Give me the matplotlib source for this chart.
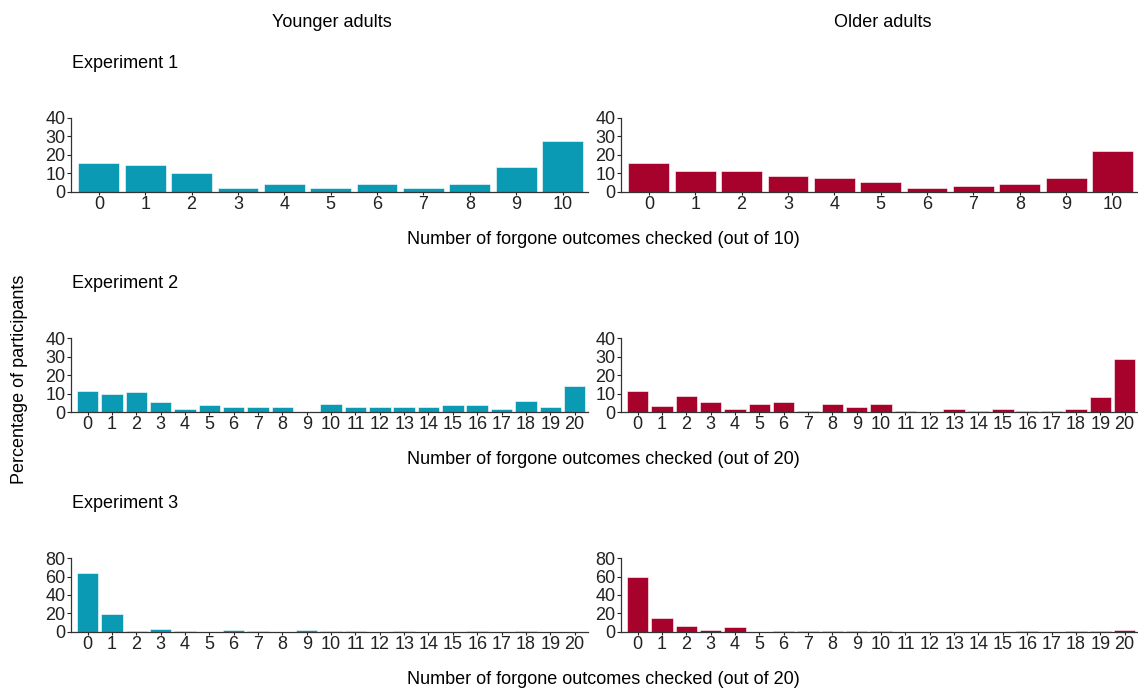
import numpy as np
import matplotlib
matplotlib.use('Agg')
import matplotlib.pyplot as plt

plt.rcParams['font.family'] = ['Liberation Sans', 'DejaVu Sans']

# percentage of participants per number of forgone outcomes checked
exp1_young = [15.3, 14.2, 9.9, 1.9, 4.2, 1.9, 4.2, 1.9, 4.2, 13.1, 27.3]
exp1_old = [15.3, 10.9, 10.9, 8.4, 7.3, 5.2, 1.8, 2.9, 4.1, 7.3, 22.0]

exp2_young = [11.6, 9.8, 10.7, 5.2, 1.4, 3.6, 2.5, 2.5, 2.5, 0.0, 4.3,
              2.5, 2.5, 2.5, 2.5, 3.6, 3.6, 1.4, 5.9, 2.5, 14.3]
exp2_old = [11.6, 3.4, 8.9, 5.2, 1.4, 4.3, 5.2, 0.7, 4.3, 2.5, 4.3,
            0.7, 0.0, 1.4, 0.7, 1.4, 0.7, 0.7, 1.4, 7.9, 28.9]

exp3_young = [63.8, 19.6, 0.6, 2.9, 0.6, 0.0, 2.1, 0.6, 0.0, 2.1, 0.6,
              0.6, 0.0, 0.6, 0.0, 0.0, 0.6, 0.0, 0.6, 0.0, 0.0]
exp3_old = [60.0, 15.0, 6.8, 1.8, 5.7, 0.0, 0.6, 0.6, 0.6, 0.6, 0.6,
            0.0, 0.0, 0.0, 0.0, 0.0, 0.6, 0.0, 0.6, 0.6, 1.8]

teal = '#0B9AB4'
crimson = '#A6022C'
fs = 13

fig = plt.figure(figsize=(11.38, 6.89), dpi=100)

rows = [
    (exp1_young, exp1_old, 40, [0, 10, 20, 30, 40], 0.722, 'Experiment 1', '(out of 10)', -0.6),
    (exp2_young, exp2_old, 40, [0, 10, 20, 30, 40], 0.402, 'Experiment 2', '(out of 20)', -0.68),
    (exp3_young, exp3_old, 80, [0, 20, 40, 60, 80], 0.083, 'Experiment 3', '(out of 20)', -0.68),
]

for young, old, ymax, yticks, bottom, label, outof, xleft in rows:
    for vals, color, left in [(young, teal, 0.0624), (old, crimson, 0.5457)]:
        ax = fig.add_axes([left, bottom, 0.4543, 0.107])
        x = np.arange(len(vals))
        ax.bar(x, vals, width=0.88, color=color, edgecolor='white', linewidth=0.4)
        ax.set_xlim(xleft, len(vals) - 0.45)
        ax.set_ylim(0, ymax)
        ax.set_yticks(yticks)
        ax.set_xticks(x)
        ax.tick_params(labelsize=fs, length=3, width=0.8, pad=1, colors='#222222')
        ax.tick_params(axis='x', length=2)
        for s in ['top', 'right']:
            ax.spines[s].set_visible(False)
        for s in ['left', 'bottom']:
            ax.spines[s].set_linewidth(0.9)
            ax.spines[s].set_color('#333333')
    fig.text(0.063, bottom + 0.107 + 0.079, label, fontsize=fs, va='center', ha='left')
    fig.text(0.53, bottom - 0.069, 'Number of forgone outcomes checked ' + outof,
             fontsize=fs, ha='center', va='center')

fig.text(0.292, 0.968, 'Younger adults', fontsize=fs, ha='center', va='center')
fig.text(0.776, 0.968, 'Older adults', fontsize=fs, ha='center', va='center')
fig.text(0.017, 0.45, 'Percentage of participants', fontsize=fs, rotation=90,
         ha='center', va='center')

fig.savefig('out.png', dpi=100)
